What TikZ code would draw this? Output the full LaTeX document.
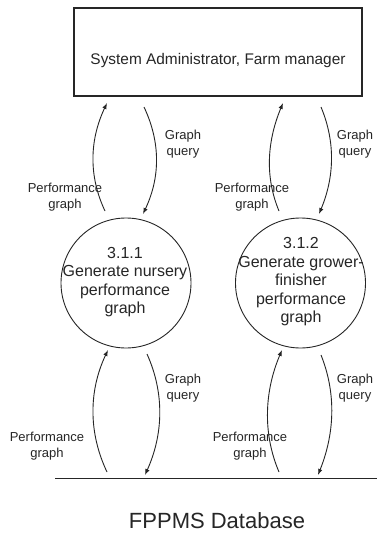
\documentclass[tikz,border=0pt]{standalone}
\usepackage{fontspec}
\setmainfont{Liberation Sans}
\usetikzlibrary{arrows.meta}
\begin{document}
\begin{tikzpicture}[x=1pt,y=-1pt,
  ink/.style={draw=black!85,line width=0.9pt},
  flow/.style={ink,-{Latex[length=6pt,width=4.5pt]}},
  lbl/.style={align=center,text=black!85,font=\fontsize{13}{15.5}\selectfont,inner sep=0pt},
  proc/.style={ink,circle,minimum size=130pt,inner sep=0pt},
  ptext/.style={align=center,text=black!85,font=\fontsize{16}{18.5}\selectfont,inner sep=0pt}]
\useasboundingbox (0,0) rectangle (377,533);
\fill[white] (0,0) rectangle (377,533);

% external entity
\node[ink,line width=1.1pt,minimum width=288pt,minimum height=88pt,inner sep=0pt] (ent) at (218,52) {};
\node[text=black!85,font=\fontsize{15.4}{18}\selectfont,inner sep=0pt] (entt) at (218,61) {System Administrator, Farm manager};

% processes
\node[proc] (p1) at (126,283) {};
\node[ptext] (p1t) at (125,282) {3.1.1\\Generate nursery\\performance\\graph};
\node[proc] (p2) at (300.5,283) {};
\node[ptext] (p2t) at (301,282) {3.1.2\\Generate grower-\\finisher\\performance\\graph};

% data store
\coordinate (dbl) at (55,478);
\coordinate (dbr) at (377,478);
\draw[ink] (dbl) -- (dbr);
\node[text=black!85,font=\fontsize{22}{26}\selectfont,inner sep=0pt] (db) at (217,521) {FPPMS Database};

% flow end points
\coordinate (pu1s) at (105,211); \coordinate (pu1e) at (107,103);
\coordinate (qu1s) at (144,107); \coordinate (qu1e) at (143,214);
\coordinate (pu2s) at (279,211); \coordinate (pu2e) at (283,103);
\coordinate (qu2s) at (321,107); \coordinate (qu2e) at (319,214);
\coordinate (pl1s) at (107,472); \coordinate (pl1e) at (108,350);
\coordinate (ql1s) at (147,354); \coordinate (ql1e) at (145,475);
\coordinate (pl2s) at (279,472); \coordinate (pl2e) at (282,350);
\coordinate (ql2s) at (321,355); \coordinate (ql2e) at (318,475);

% upper flows
\draw[flow] (pu1s) .. controls +(-17,-36) and +(-17,36) .. (pu1e);
\draw[flow] (qu1s) .. controls +(17,36) and +(17,-36) .. (qu1e);
\draw[flow] (pu2s) .. controls +(-15,-36) and +(-15,36) .. (pu2e);
\draw[flow] (qu2s) .. controls +(15,36) and +(15,-36) .. (qu2e);
% lower flows
\draw[flow] (pl1s) .. controls +(-19,-40) and +(-19,40) .. (pl1e);
\draw[flow] (ql1s) .. controls +(18,40) and +(18,-40) .. (ql1e);
\draw[flow] (pl2s) .. controls +(-17,-40) and +(-17,40) .. (pl2e);
\draw[flow] (ql2s) .. controls +(16,40) and +(16,-40) .. (ql2e);

% labels
\node[lbl] (lq1) at (183,144) {Graph\\query};
\node[lbl] (lp1) at (65,197) {Performance\\graph};
\node[lbl] (lq2) at (355,144) {Graph\\query};
\node[lbl] (lp2) at (252,197) {Performance\\graph};
\node[lbl] (lq3) at (183,388) {Graph\\query};
\node[lbl] (lp3) at (47,446) {Performance\\graph};
\node[lbl] (lq4) at (355,388) {Graph\\query};
\node[lbl] (lp4) at (250,446) {Performance\\graph};
\end{tikzpicture}
\end{document}
